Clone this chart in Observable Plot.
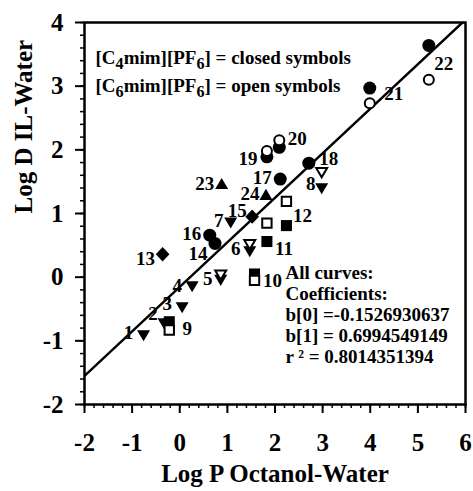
<!DOCTYPE html>
<html><head><meta charset="utf-8">
<script src="https://cdn.jsdelivr.net/npm/d3@7"></script>
<script src="https://cdn.jsdelivr.net/npm/@observablehq/plot@0.6"></script>
<style>body{margin:0;background:#fff}</style>
</head><body><div id="chart"></div>
<script>
// ---- data ----
const compounds = [1,2,3,4,5,6,7,8,9,10,11,12,13,14,15,16,17,18,19,20,21,22,23,24];
const logP      = [-0.76,-0.33,0.05,0.26,0.86,1.47,1.07,2.98,-0.22,1.57,1.83,2.24,-0.36,0.74,1.52,0.63,2.11,2.71,1.83,2.09,3.99,5.23,0.88,1.81];
const logD_C4   = [-0.91,-0.72,-0.47,-0.14,-0.04,0.41,0.86,1.40,-0.70,0.05,0.56,0.81,0.36,0.53,0.95,0.66,1.54,1.79,1.89,2.04,2.97,3.64,1.46,1.29];
const logD_C6   = [null,null,null,null,0.04,0.52,null,1.65,-0.83,-0.05,0.85,1.19,null,null,null,null,null,null,1.98,2.15,2.73,3.10,null,null];
const shapes    = ["triDown","triDown","triDown","triDown","triDown","triDown","triDown","triDown","square","square","square","square","diamond","circle","diamond","circle","circle","circle","circle","circle","circle","circle","triUp","triUp"];
const xTicks = [-2,-1,0,1,2,3,4,5,6];
const yTicks = [-2,-1,0,1,2,3,4];
const fitB0 = -0.1526930637, fitB1 = 0.6994549149, fitR2 = 0.8014351394;
const fitX = [-2, 6];
const legendLines = ["[C_4mim][PF_6] = closed symbols", "[C_6mim][PF_6] = open symbols"];
const coefLines = ["All curves:", "Coefficients:", "b[0] =-0.1526930637", "b[1] = 0.6994549149", "r \u00b2 = 0.8014351394"];
const xTitle = "Log P Octanol-Water";
const yTitle = "Log D IL-Water";

// ---- layout (label offsets in pixels) ----
const labelOffsets = [[-15,-2],[-11,-9],[-15,-3],[-15,0],[-13,-1],[-14,-2],[-12,-2],[-11,-4],[18,7],[18,7],[17,7],[16,-10],[-17,5],[-17,10],[-15,-6],[-18,-1],[-18,-1],[20,-4],[-19,2],[18,-8],[24,6],[15,18],[-17,0],[-16,-1]];

const W = 473, H = 491, mL = 84, mR = 8, mT = 22, mB = 87;
const kx = 8 / (W - mL - mR), ky = 6 / (H - mT - mB);

const mk = pts => ({draw(ctx, size){ const R = Math.sqrt(size/Math.PI); ctx.moveTo(pts[0][0]*R, pts[0][1]*R); for (let i=1;i<pts.length;i++) ctx.lineTo(pts[i][0]*R, pts[i][1]*R); ctx.closePath(); }});
const symbols = {
  circle: {draw(ctx,size){ const R = Math.sqrt(size/Math.PI); ctx.moveTo(R,0); ctx.arc(0,0,R,0,2*Math.PI); }},
  triDown: mk([[-1,-0.75],[1,-0.75],[0,0.95]]),
  triUp: mk([[-1,0.75],[1,0.75],[0,-0.95]]),
  square: mk([[-0.85,-0.85],[0.85,-0.85],[0.85,0.85],[-0.85,0.85]]),
  diamond: mk([[0,-1.1],[1.05,0],[0,1.1],[-1.05,0]])
};

const rows = compounds.map((id,i) => ({id, logP: logP[i], c4: logD_C4[i], c6: logD_C6[i], shape: shapes[i], off: labelOffsets[i]}));
const fit = fitX.map(x => ({x, y: fitB0 + fitB1*x}));
const fmt = d => d < 0 ? "-" + Math.abs(d) : String(d);
const minor = (a,b) => d3.range(Math.round(a*5), Math.round(b*5)+1).map(v => v/5);

const closedMarks = Object.keys(symbols).map(s => Plot.dot(rows.filter(d => d.shape===s && d.c4!=null), {x:"logP", y:"c4", symbol: symbols[s], r: 6.5, fill:"black"}));
const openMarks = Object.keys(symbols).map(s => Plot.dot(rows.filter(d => d.shape===s && d.c6!=null), {x:"logP", y:"c6", symbol: symbols[s], r: s==="circle"?5:5.5, fill:"white", stroke:"black", strokeWidth:2}));

const svg = Plot.plot({
  width: W, height: H, marginLeft: mL, marginRight: mR, marginTop: mT, marginBottom: mB,
  x: {domain: [-2, 6]}, y: {domain: [-2, 4]},
  style: {fontFamily: '"Liberation Serif", "Times New Roman", serif', fontWeight: "bold", color: "black", background: "white", overflow: "visible"},
  marks: [
    Plot.axisX(minor(-2,6), {tickSize: 4, tickFormat: () => "", strokeWidth: 1.5, label: null}),
    Plot.axisX(xTicks, {tickSize: 9, tickPadding: 20, fontSize: 25, fontWeight: "bold", tickFormat: fmt, strokeWidth: 2, label: null}),
    Plot.axisY(minor(-2,4), {tickSize: 4, tickFormat: () => "", strokeWidth: 1.5, label: null}),
    Plot.axisY(yTicks, {tickSize: 9, tickPadding: 12, fontSize: 25, fontWeight: "bold", tickFormat: fmt, strokeWidth: 2, label: null}),
    Plot.frame({strokeWidth: 2.5}),
    Plot.line(fit, {x: "x", y: "y", strokeWidth: 2.5, clip: true}),
    ...closedMarks,
    ...openMarks,
    Plot.text(rows, {x: d => d.logP + d.off[0]*kx, y: d => d.c4 - d.off[1]*ky, text: d => String(d.id), fontSize: 19, fontWeight: "bold"}),
    Plot.text([legendLines[0]], {frameAnchor: "top-left", dx: 11, dy: 28, textAnchor: "start", fontSize: 19, fontWeight: "bold"}),
    Plot.text([legendLines[1]], {frameAnchor: "top-left", dx: 11, dy: 56, textAnchor: "start", fontSize: 19, fontWeight: "bold"}),
    Plot.text([coefLines.join("\n")], {frameAnchor: "top-left", dx: 201, dy: 242, textAnchor: "start", lineAnchor: "top", lineHeight: 1.1, fontSize: 19, fontWeight: "bold"}),
    Plot.text([xTitle], {frameAnchor: "bottom", dy: 77, fontSize: 25, fontWeight: "bold"}),
    Plot.text([yTitle], {frameAnchor: "left", dx: -61, rotate: -90, fontSize: 25, fontWeight: "bold"})
  ]
});

// subscripts in legend
d3.select(svg).selectAll("text").each(function(){
  const t = this.textContent;
  if (!t.includes("_") || this.querySelector("tspan")) return;
  const sel = d3.select(this); sel.text(null);
  const parts = t.split(/_(\d)/);
  let shifted = false;
  parts.forEach((p,k) => {
    if (!p) return;
    if (k % 2 === 1) { sel.append("tspan").attr("dy", 5).attr("font-size", "0.85em").text(p); shifted = true; }
    else { const ts = sel.append("tspan").text(p); if (shifted) { ts.attr("dy", -5); shifted = false; } }
  });
});

document.getElementById("chart").appendChild(svg);
</script>
</body></html>
